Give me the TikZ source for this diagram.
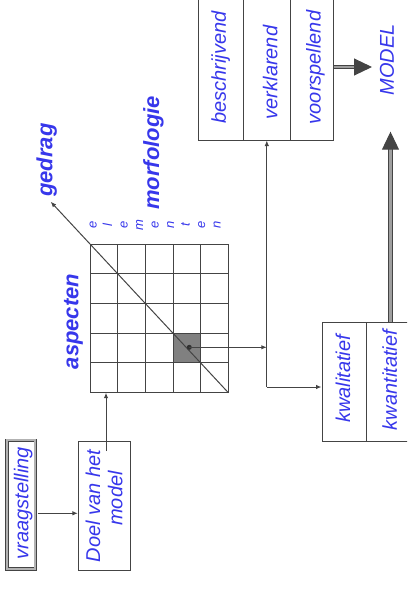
\documentclass[tikz,border=0pt]{standalone}
\usepackage{fontspec}
\setmainfont{Liberation Sans}
\usetikzlibrary{arrows.meta,calc}
\definecolor{txtblue}{RGB}{55,55,235}
\definecolor{linegray}{RGB}{68,68,68}
\begin{document}
\begin{tikzpicture}[x=1pt,y=-1pt,
  box/.style={draw=linegray, line width=1pt, inner sep=0pt},
  lbl/.style={text=txtblue, font=\fontsize{20}{23}\selectfont\itshape, rotate=90, inner sep=0pt},
  blbl/.style={text=txtblue, font=\fontsize{22}{26}\selectfont\bfseries\itshape, rotate=90, inner sep=0pt},
  smalllbl/.style={text=txtblue, font=\fontsize{13}{15.5}\selectfont\itshape, rotate=90, inner sep=0pt, align=center},
  conn/.style={draw=linegray, line width=1pt},
  tip/.style={-{Latex[length=5.5pt,width=4.5pt]}},
  dbl/.style={draw=linegray, double=gray!75, double distance=2.5pt, line width=1.1pt, -{Triangle[length=18pt,width=17pt]}}
]
\useasboundingbox (0,0) rectangle (407,589);
\clip (0,0) rectangle (407,589);

% ---------- grid ----------
\coordinate (gtl) at (90,244);
\coordinate (gbr) at (228.35,392.7);
\fill[gray] (173,333.1) rectangle (200.7,362.9);
\foreach \i in {0,...,5}{
  \draw[conn] ({90+27.67*\i},244) -- ({90+27.67*\i},392.7);
  \draw[conn] (90,{244+29.74*\i}) -- (228.35,{244+29.74*\i});
}
\draw[conn,tip] (gbr) -- ($(gbr)!1.284!(gtl)$);
\node[circle, fill=linegray!70!black, inner sep=0pt, minimum size=5pt] (dot) at (189.3,347.3) {};

% ---------- labels near grid ----------
\node[blbl] (aspecten) at (73.5,321.5) {aspecten};
\node[blbl] (gedrag) at (46.7,160) {gedrag};
\node[blbl] (morfologie) at (153.5,153) {morfologie};
\node[smalllbl] (elementen) at (155,225) {e\\l\\e\\m\\e\\n\\t\\e\\n};

% ---------- left boxes ----------
\node[draw=linegray, double=gray!60, double distance=2pt, line width=0.8pt,
      minimum width=28.6pt, minimum height=128.7pt, inner sep=0pt] (vraag) at (21,504.7) {};
\node[lbl] (vraagtxt) at (23.3,503.3) {vraagstelling};
\node[box, minimum width=51.7pt, minimum height=129pt] (doel) at (104.2,506.2) {};
\node[lbl] (doeltxt1) at (93,506) {Doel van het};
\node[lbl] (doeltxt2) at (115.3,498.5) {model};

\draw[conn,tip] ($(vraag.east)+(1.8,8.6)$) coordinate (va) -- (va -| doel.west);
\coordinate (doelout) at ($(doel.north)+(1.8,10)$);
\draw[conn,tip] (doelout) -- (doelout |- gbr);

% ---------- top boxes ----------
\node[box, minimum width=45.3pt, minimum height=146pt] (besch) at (220.65,67) {};
\node[box, minimum width=47pt, minimum height=146pt] (verkl) at (266.8,67) {};
\node[box, minimum width=42.7pt, minimum height=146pt] (voors) at (311.65,67) {};
\node[lbl] (beschtxt) at (220.8,67.5) {beschrijvend};
\node[lbl] (verkltxt) at (270.3,72.5) {verklarend};
\node[lbl] (voorstxt) at (315.5,67.5) {voorspellend};

% ---------- right boxes ----------
\node[box, minimum width=44pt, minimum height=119pt] (kwal) at (344,381.5) {};
\node[box, minimum width=49pt, minimum height=119pt] (kwant) at (390.5,381.5) {};
\node[lbl] (kwaltxt) at (343,379) {kwalitatief};
\node[lbl] (kwanttxt) at (389.7,380) {kwantitatief};

% ---------- model ----------
\node[lbl] (model) at (387,60) {MODEL};
\coordinate (modelin) at (372,67);
\coordinate (modelbot) at (390.5,131.7);

% ---------- connectors ----------
\coordinate (j1) at (266.8,347.3);
\coordinate (j2) at (266.8,387);
\draw[conn,tip] (dot.center) -- (j1);
\draw[conn,tip] (j2) -- (verkl.south);
\draw[conn,tip] (j2) -- (j2 -| kwal.west);
\draw[dbl] (voors.east) -- (modelin);
\draw[dbl] (kwant.north) -- (modelbot);
\end{tikzpicture}
\end{document}
